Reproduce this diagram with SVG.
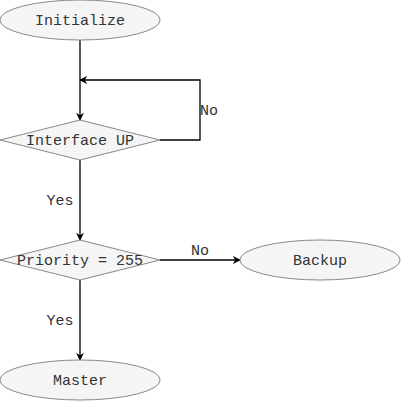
<svg xmlns="http://www.w3.org/2000/svg" width="401" height="401" viewBox="0 0 401 401">
<style>
.shape{fill:#f5f5f5;stroke:#888;stroke-width:1}
.t{font-family:"Liberation Mono","DejaVu Sans Mono",monospace;font-size:15px;fill:#333;text-anchor:middle;dominant-baseline:central}
.c{fill:none;stroke:#000;stroke-width:1.3}
</style>
<defs>
<marker id="arr" viewBox="0 0 10 10" refX="9" refY="5" markerWidth="8" markerHeight="8" markerUnits="userSpaceOnUse" orient="auto">
<path d="M0,0 L10,5 L0,10 L3,5 Z" fill="#000"/>
</marker>
</defs>
<rect width="401" height="401" fill="#fff"/>
<g id="connectors">
<path class="c" d="M80,40 V120" marker-end="url(#arr)"/>
<path class="c" d="M160,140 H200 V80 H80" marker-end="url(#arr)"/>
<path class="c" d="M80,160 V240" marker-end="url(#arr)"/>
<path class="c" d="M160,260 H240" marker-end="url(#arr)"/>
<path class="c" d="M80,280 V360" marker-end="url(#arr)"/>
<text class="t" x="209" y="111">No</text>
<text class="t" x="60" y="201">Yes</text>
<text class="t" x="200" y="251">No</text>
<text class="t" x="60" y="321">Yes</text>
</g>
<g id="initialize">
<ellipse class="shape" cx="80" cy="20" rx="80" ry="20"/>
<text class="t" x="80" y="21">Initialize</text>
</g>
<g id="interface-up">
<polygon class="shape" points="0,140 80,120 160,140 80,160"/>
<text class="t" x="80" y="141">Interface UP</text>
</g>
<g id="priority">
<polygon class="shape" points="0,260 80,240 160,260 80,280"/>
<text class="t" x="80" y="261">Priority = 255</text>
</g>
<g id="backup">
<ellipse class="shape" cx="320" cy="260" rx="80" ry="20"/>
<text class="t" x="320" y="261">Backup</text>
</g>
<g id="master">
<ellipse class="shape" cx="80" cy="380" rx="80" ry="20"/>
<text class="t" x="80" y="381">Master</text>
</g>
</svg>
